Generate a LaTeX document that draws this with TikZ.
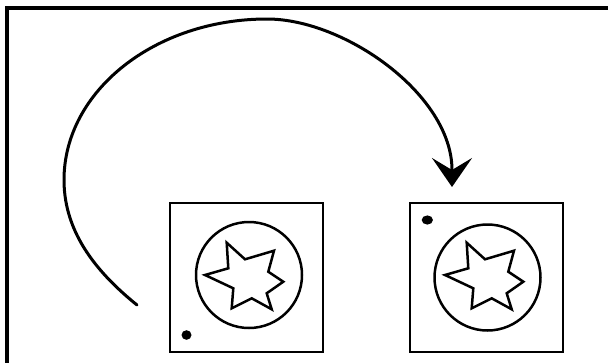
\documentclass[tikz,border=0pt]{standalone}
\usetikzlibrary{arrows.meta}
\begin{document}
\begin{tikzpicture}[x=1pt,y=-1pt,
  frameline/.style={line width=3.4pt},
  boxline/.style={line width=2.9pt},
  ringline/.style={line width=2.5pt},
  starline/.style={line width=2.5pt, line join=miter},
  arcline/.style={line width=3pt, line cap=round},
  dotfill/.style={fill=black}
]
\useasboundingbox[fill=white] (0,0) rectangle (608,362);
% outer frame (top and left edges visible)
\draw[frameline] (7,380) -- (7,8) -- (630,8);
% left box
\node[draw, boxline, minimum width=153pt, minimum height=149pt, inner sep=0pt] (boxL) at (246.5,277.5) {};
\node[draw, ringline, circle, minimum size=106pt, inner sep=0pt] (ringL) at (249,275) {};
\foreach \sx/\nm in {0/L, 240/R} {
  \draw[starline] (226.7+\sx,242.7) -- (245+\sx,259.3) -- (274+\sx,250.7) -- (268.3+\sx,271.7) -- (283.3+\sx,281.7) -- (266.7+\sx,293.3) -- (271.7+\sx,309.3) -- (251.7+\sx,298.3) -- (231.7+\sx,308.3) -- (233.3+\sx,288.3) -- (205+\sx,275) -- (228.3+\sx,268.3) -- cycle;
}
\fill[dotfill] (186.5,335) ellipse [x radius=5, y radius=4.8];
% right box
\node[draw, boxline, minimum width=153pt, minimum height=149pt, inner sep=0pt] (boxR) at (486.5,277.5) {};
\node[draw, ringline, circle, minimum size=106pt, inner sep=0pt] (ringR) at (487.5,277.5) {};
\fill[dotfill] (427.3,220) ellipse [x radius=5.6, y radius=4.6];
% curved arrow
\coordinate (arcstart) at (137,305);
\coordinate (arcleft) at (64,180);
\coordinate (arctop) at (267,19);
\coordinate (arcright) at (452,170);
\coordinate (arcend) at (452,187);
\draw[arcline, -{Stealth[length=29pt, width=40pt, inset=12pt]}] (arcstart) .. controls (100,275) and (64,235) .. (arcleft) .. controls (64,91) and (155,19) .. (arctop) .. controls (345,19) and (452,95) .. (arcright) -- (arcend);
\end{tikzpicture}
\end{document}
